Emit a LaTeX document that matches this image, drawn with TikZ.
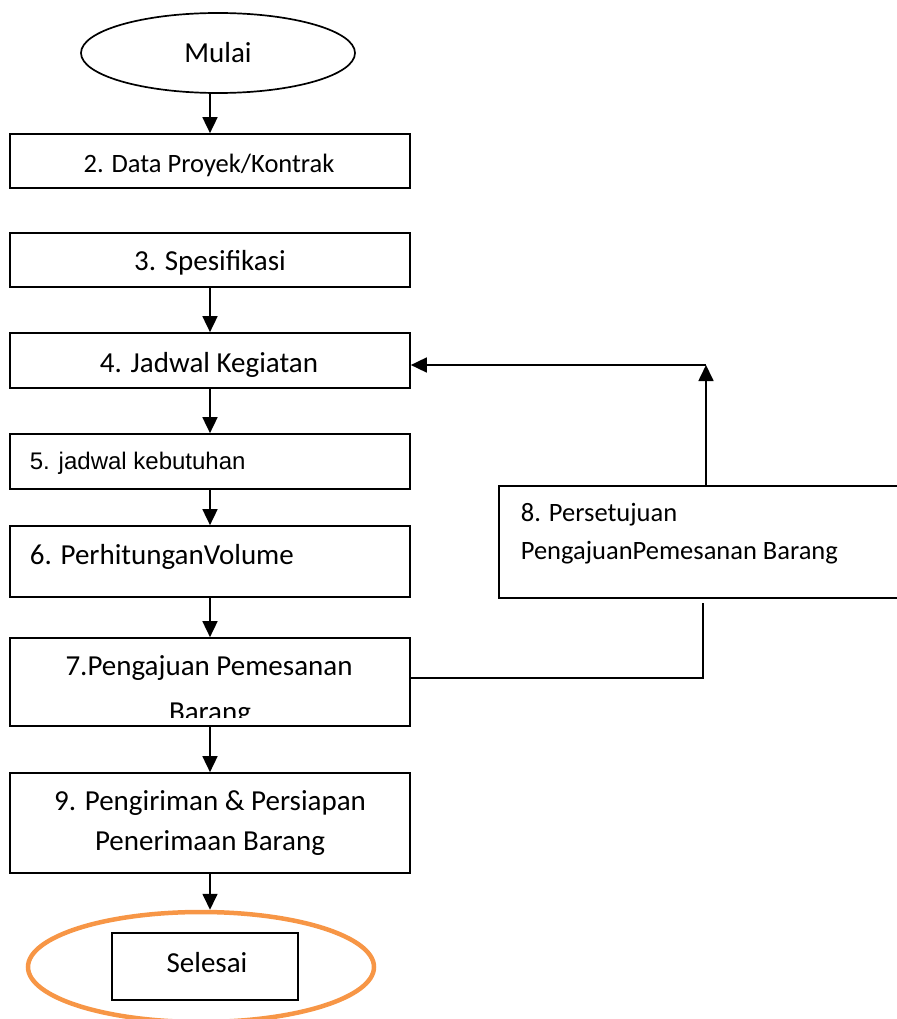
\documentclass[tikz,border=0pt]{standalone}
\usepackage{fontspec}
\setmainfont{Carlito}
\newfontfamily\arialfont{Liberation Sans}
\usetikzlibrary{arrows.meta,shapes.geometric}
\definecolor{orng}{RGB}{247,150,70}
\begin{document}
\begin{tikzpicture}[x=1pt,y=-1pt, line width=1.7pt,
  box/.style={draw, rectangle, minimum width=400pt, inner sep=0pt},
  txt/.style={inner sep=0pt, font=\fontsize{29}{35}\selectfont},
  smalltxt/.style={inner sep=0pt, font=\fontsize{26.5}{32}\selectfont},
  arr/.style={-{Triangle[length=16pt,width=15pt]}, line width=1.7pt}]
\useasboundingbox (0,0) rectangle (896,1019);

% start
\node[draw, ellipse, minimum width=274pt, minimum height=80pt, inner sep=0pt] (mulai) at (218,53) {};
\node[txt] (tmulai) at (218,53) {Mulai};

% boxes
\node[box, minimum height=54pt] (b2) at (210,161) {};
\node[smalltxt] (t2) at (209,165) {2. Data Proyek/Kontrak};

\node[box, minimum height=54pt] (b3) at (210,260) {};
\node[txt] (t3) at (210,263) {3. Spesifikasi};

\node[box, minimum height=55pt] (b4) at (210,360.5) {};
\node[txt] (t4) at (209,365) {4. Jadwal Kegiatan};

\node[box, minimum height=55pt] (b5) at (210,461.5) {};
\node[inner sep=0pt, anchor=west, font=\arialfont\fontsize{24}{29}\selectfont] (t5) at (29,463) {5. jadwal kebutuhan};

\node[box, minimum height=71pt] (b6) at (210,561.5) {};
\node[txt, anchor=west] (t6) at (29,557) {6. PerhitunganVolume};

\node[box, minimum height=88pt] (b7) at (210,682) {};
\node[txt] (t7) at (209,668) {7.Pengajuan Pemesanan};
\begin{scope}
  \clip (10,640) rectangle (410,717);
  \node[txt, anchor=base] (t7b) at (210,721) {Barang};
\end{scope}

\node[box, minimum height=100pt] (b9) at (210,823) {};
\node[txt] (t9a) at (210,803) {9. Pengiriman \& Persiapan};
\node[txt] (t9b) at (210,843) {Penerimaan Barang};

% approval box (runs off the right edge)
\node[box, minimum width=401pt, minimum height=112pt] (b8) at (699.5,542) {};
\node[smalltxt, anchor=west] (t8a) at (520,515) {8. Persetujuan};
\node[smalltxt, anchor=west] (t8b) at (520,553) {PengajuanPemesanan Barang};

% end
\node[draw=orng, line width=4.5pt, ellipse, minimum width=346pt, minimum height=110pt, inner sep=0pt] (oval) at (201,967) {};
\node[draw, minimum width=186pt, minimum height=67pt, inner sep=0pt] (sel) at (205,966.5) {};
\node[txt] (tsel) at (207,963) {Selesai};

% connectors
\draw[arr] (mulai.south -| b2.north) -- (b2.north);
\draw[arr] (b3) -- (b4);
\draw[arr] (b4) -- (b5);
\draw[arr] (b5) -- (b6);
\draw[arr] (b6) -- (b7);
\draw[arr] (b7) -- (b9);
\draw[arr] (b9.south) -- (b9.south |- oval.north);

\coordinate (c1) at (706,365);
\draw[arr] (b8.north -| c1) -- (c1);
\draw[arr] (c1) -- (c1 -| b4.east);

\coordinate (c2) at (703,603);
\coordinate (c3) at (703,678);
\draw (c2) -- (c3) -- (c3 -| b7.east);
\end{tikzpicture}
\end{document}
